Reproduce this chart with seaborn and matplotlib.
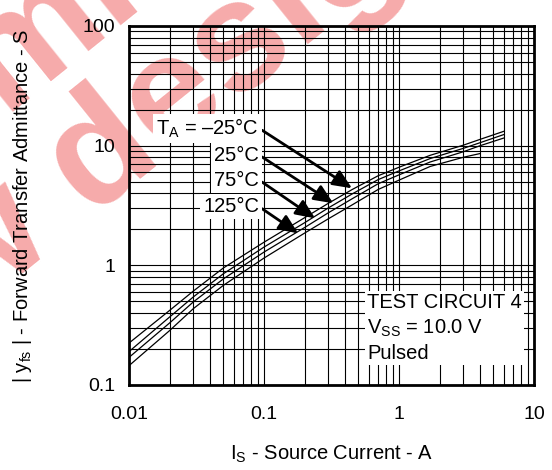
import numpy as np
import pandas as pd
import matplotlib
matplotlib.use('Agg')
import matplotlib.pyplot as plt
import seaborn as sns
from matplotlib.ticker import LogLocator, NullFormatter, FixedLocator, FixedFormatter

# values (log-log), one list per temperature
current = [0.01, 0.02, 0.03, 0.05, 0.1, 0.2, 0.3, 0.45, 0.7, 1.0, 1.7, 3.0, 4.0, 6.0]
yfs_m25 = [0.224, 0.42, 0.61, 0.95, 1.56, 2.5, 3.3, 4.3, 5.6, 6.6, 8.3, 10.1, 11.3, 13.2]
yfs_25 = [0.190, 0.37, 0.545, 0.85, 1.42, 2.27, 3.02, 3.95, 5.2, 6.15, 7.8, 9.5, 10.6, 12.4]
yfs_75 = [0.170, 0.33, 0.495, 0.77, 1.29, 2.07, 2.75, 3.6, 4.8, 5.7, 7.3, 8.9, 10.0, 11.6]
yfs_125 = [0.145, 0.285, 0.435, 0.68, 1.15, 1.86, 2.45, 3.2, 4.3, 5.15, 6.7, 8.0, 8.6]

temp_labels = [r'$\mathregular{T_A}$ = –25°C', '25°C', '75°C', '125°C']
# where each arrow points (on its curve) and where its label sits
arrow_x = [0.449, 0.326, 0.239, 0.179]
arrow_y = [4.4, 3.3, 2.47, 1.85]
label_x = 0.092
label_y = [13.96, 8.35, 5.16, 3.09]

xticks = [0.01, 0.1, 1, 10]
xticklabels = ['0.01', '0.1', '1', '10']
yticks = [0.1, 1, 10, 100]
yticklabels = ['0.1', '1', '10', '100']

frames = []
for name, vals in zip(['-25', '25', '75', '125'], [yfs_m25, yfs_25, yfs_75, yfs_125]):
    frames.append(pd.DataFrame({'Is': current[:len(vals)], 'yfs': vals, 'T': name}))
df = pd.concat(frames, ignore_index=True)

sns.set_theme(style='white')
plt.rcParams['font.family'] = ['Liberation Sans', 'DejaVu Sans']
plt.rcParams['mathtext.fontset'] = 'custom'
plt.rcParams['mathtext.rm'] = 'Liberation Sans'
plt.rcParams['mathtext.it'] = 'Liberation Sans'

fig = plt.figure(figsize=(5.52, 4.70), dpi=100)
ax = fig.add_axes([0.2337, 0.1809, 0.7337, 0.7638])
ax.set_facecolor('none')

# watermark behind everything
wm = dict(color='#f6abab', fontsize=112, fontweight='bold', rotation=38.8,
          rotation_mode='anchor', ha='left', va='baseline', zorder=-5)
fig.text(-0.8814, -0.093, 'Not recommended', **wm)
fig.text(-0.6777, -0.2596, 'for new design', **wm)

sns.lineplot(data=df, x='Is', y='yfs', units='T', estimator=None, sort=True,
             color='black', lw=0.9, legend=False, ax=ax, zorder=4)

ax.set_xscale('log')
ax.set_yscale('log')
ax.set_xlim(0.01, 10)
ax.set_ylim(0.1, 100)
ax.xaxis.set_major_locator(FixedLocator(xticks))
ax.xaxis.set_major_formatter(FixedFormatter(xticklabels))
ax.yaxis.set_major_locator(FixedLocator(yticks))
ax.yaxis.set_major_formatter(FixedFormatter(yticklabels))
ax.xaxis.set_minor_locator(LogLocator(base=10, subs=range(2, 10)))
ax.yaxis.set_minor_locator(LogLocator(base=10, subs=range(2, 10)))
ax.xaxis.set_minor_formatter(NullFormatter())
ax.yaxis.set_minor_formatter(NullFormatter())
ax.grid(which='both', color='black', lw=0.8)
ax.tick_params(which='both', length=0, labelsize=14, colors='black')
ax.tick_params(axis='x', pad=15)
ax.tick_params(axis='y', pad=10)
for s in ax.spines.values():
    s.set_color('black')
    s.set_linewidth(2)

for lab, tx, ty, ly in zip(temp_labels, arrow_x, arrow_y, label_y):
    ax.annotate(lab, xy=(tx, ty), xytext=(label_x, ly), ha='right', va='center',
                fontsize=14.5, color='black', zorder=5,
                bbox=dict(boxstyle='square,pad=0.15', fc='white', ec='none'),
                arrowprops=dict(arrowstyle='-|>,head_length=0.8,head_width=0.35',
                                color='black', lw=2, shrinkA=0, shrinkB=0,
                                relpos=(1, 0.5)))

ax.text(0.588, 0.159, 'TEST CIRCUIT 4\n' + r'$\mathregular{V_{SS}}$ = 10.0 V' + '\nPulsed',
        transform=ax.transAxes, ha='left', va='center', fontsize=14.5,
        linespacing=1.35, color='black', zorder=5,
        bbox=dict(boxstyle='square,pad=0.1', fc='white', ec='none'))

ax.set_xlabel(r'$\mathregular{I_S}$ - Source Current - A', fontsize=14.5, color='black')
ax.set_ylabel(r'| $\mathregular{y_{fs}}$ | - Forward Transfer Admittance - S', fontsize=14.5, color='black')
ax.xaxis.set_label_coords(0.5, -0.164)
ax.yaxis.set_label_coords(-0.235, 0.5)

fig.savefig('out.png', dpi=100)
